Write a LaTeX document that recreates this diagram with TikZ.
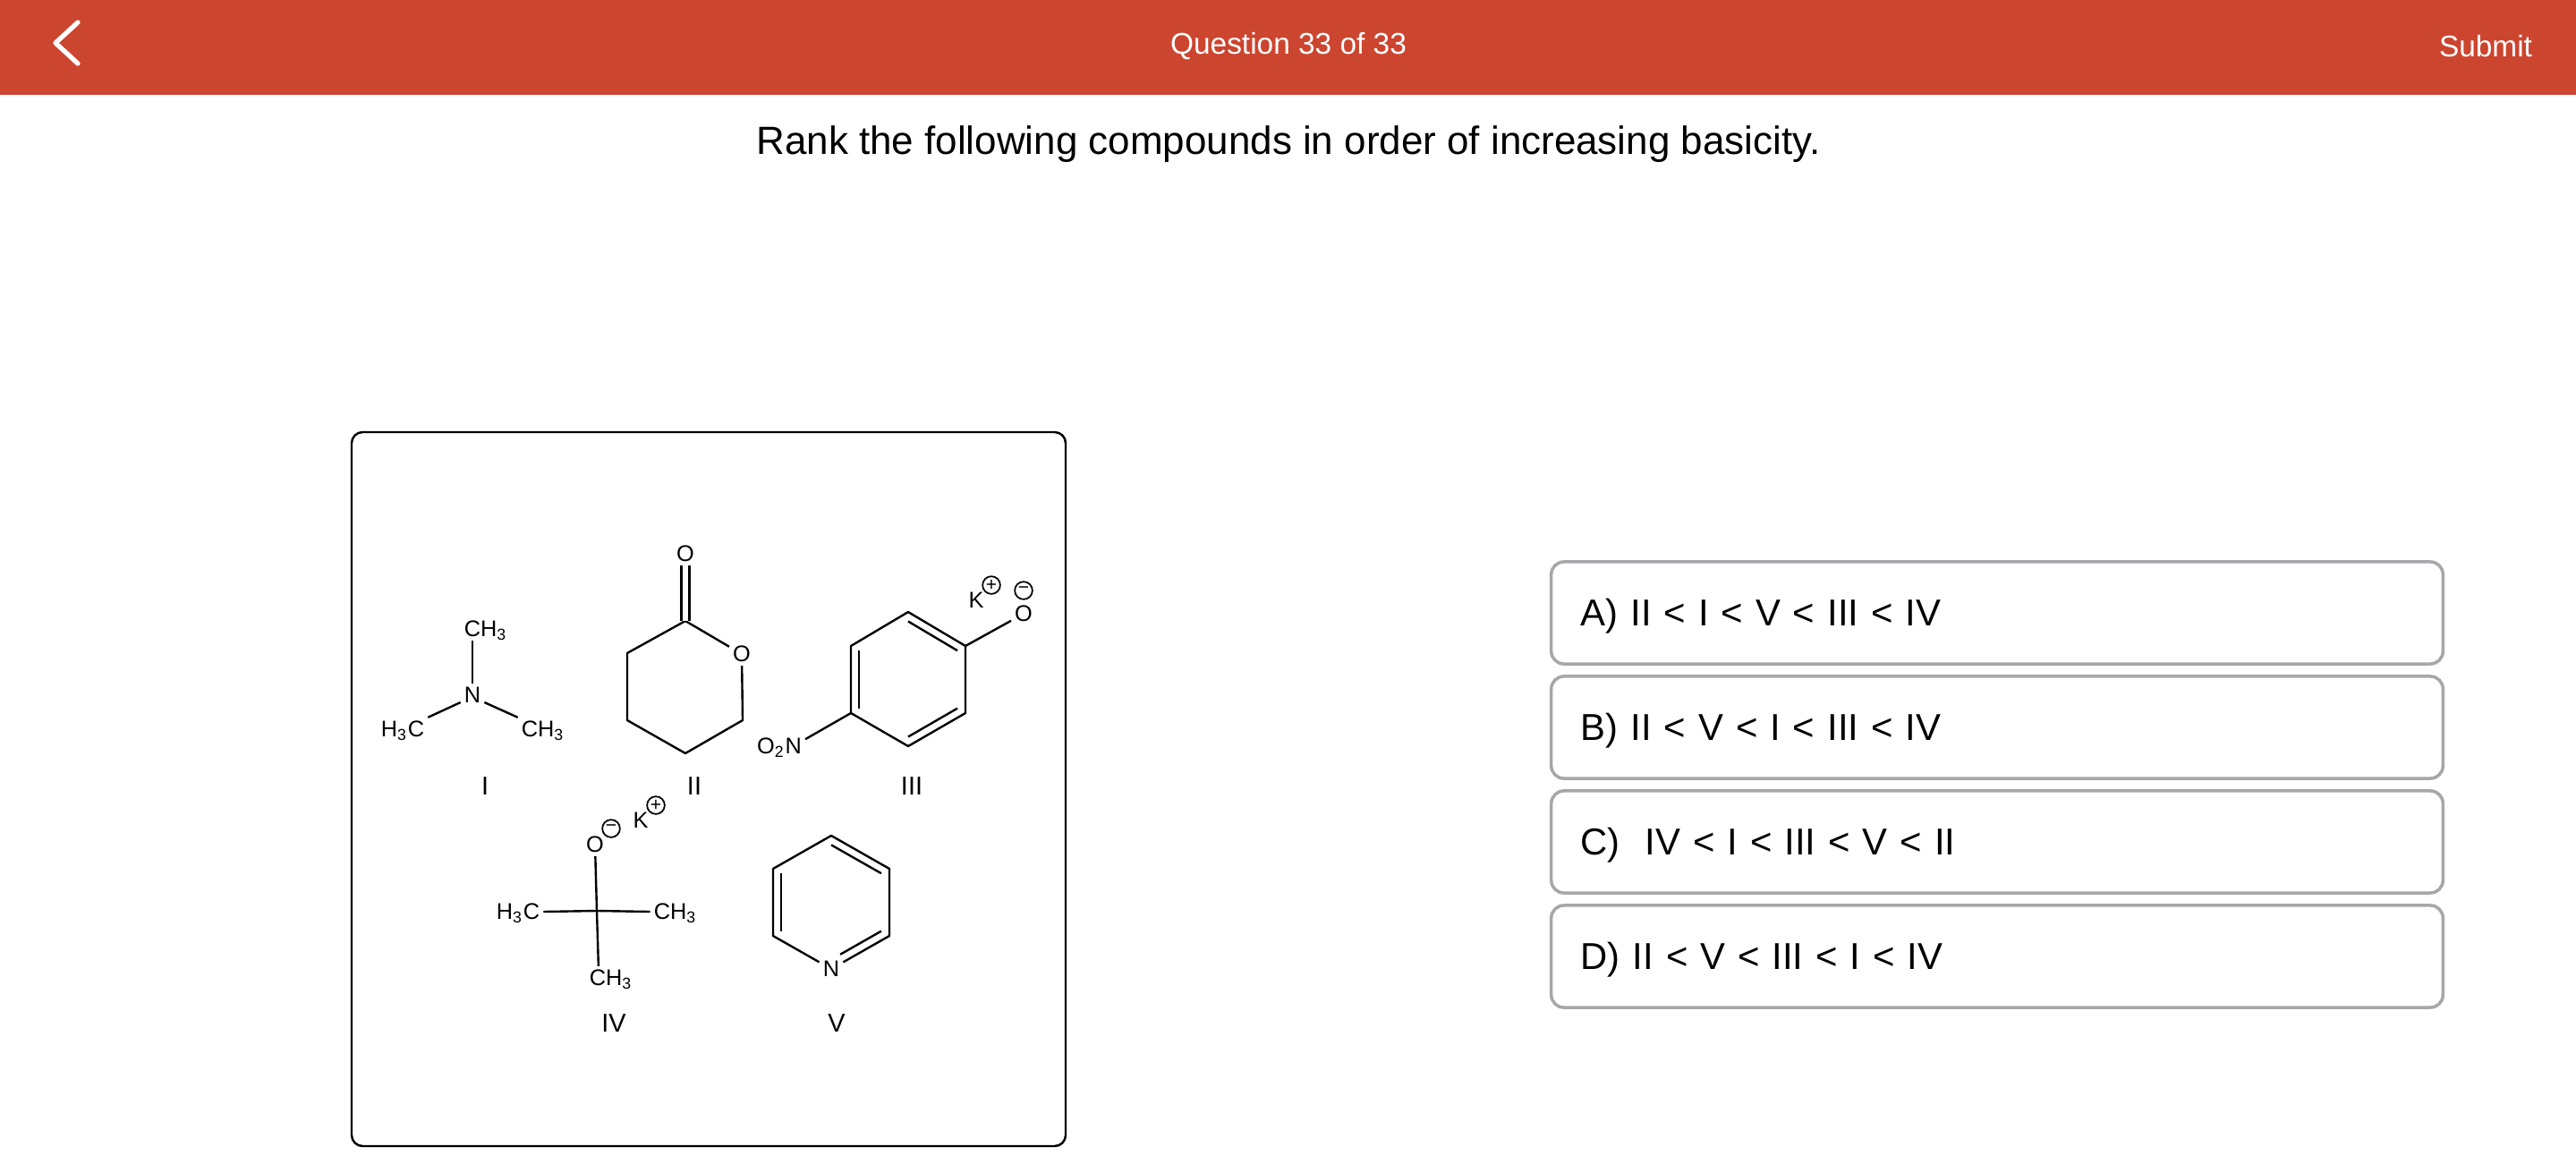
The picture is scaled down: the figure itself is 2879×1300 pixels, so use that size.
\documentclass[tikz,border=0pt]{standalone}
\usepackage{fontspec}
\setmainfont{Liberation Sans}
\usetikzlibrary{calc}
\definecolor{barred}{HTML}{CC452F}
\definecolor{optgray}{HTML}{A5A7AA}
\tikzset{
  atom/.style={inner sep=1pt, font=\fontsize{7.2}{8}\selectfont, text height=5.1pt, text depth=0pt},
  numeral/.style={inner sep=0pt, font=\fontsize{8.2}{10}\selectfont},
  bond/.style={line width=.68pt},
  dbl/.style={double, line width=.68pt, double distance=1.85pt},
  charge/.style={circle, draw, line width=.5pt, minimum size=5.6pt, inner sep=0pt},
  option/.style={draw=optgray, line width=1pt, rounded corners=4pt, minimum width=9.96cm,
    minimum height=1.14cm, text width=9.3cm, align=left, inner xsep=.33cm, inner ysep=0pt,
    text height=9pt, text depth=1pt, font=\fontsize{11.9}{14}\selectfont}
}
\newcommand{\chemsub}[1]{\textsubscript{#1}}
\begin{document}
\begin{tikzpicture}[x=.01cm, y=-.01cm]
\useasboundingbox (0,0) rectangle (2879,1300);
\fill[barred] (0,0) rectangle (2879,106);
\draw[white, line width=1.5pt, line cap=round, line join=round] (87,25)--(62,48)--(87,71);
\node[text=white, font=\fontsize{9.5}{11}\selectfont] (title) at (1440,52){Question 33 of 33};
\node[text=white, font=\fontsize{9.5}{11}\selectfont] (submit) at (2778,52){Submit};
\node[font=\fontsize{12.5}{15}\selectfont] (question) at (1440,161){Rank the following compounds in order of increasing basicity.};
\draw[line width=.7pt, rounded corners=3.5pt] (393,483) rectangle (1191,1281);

% I
\node[atom] (n1) at (528,777){N};
\node[atom] (me1a) at (543,703){CH\chemsub{3}};
\node[atom] (me1b) at (450,815){H\chemsub{3}C};
\node[atom] (me1c) at (607,815){CH\chemsub{3}};
\draw[bond] (n1.north)--(n1.north |- me1a.south);
\draw[bond] (n1.-149)--(me1b.north east);
\draw[bond] (n1.-31)--(me1c.north west);
\node[numeral] (lab1) at (542,879){I};

% II
\foreach \p/\x/\y in {a/766/694,b/701/730,c/701/805,d/766/842,e/830/805}
{
    \coordinate (r2\p) at (\x,\y);
}
\node[atom] (o2a) at (829,731){O};
\node[atom] (o2b) at (766,619){O};
\draw[bond, line join=round] (o2a)--(r2a)--(r2b)--(r2c)--(r2d)--(r2e)--(o2a);
\draw[dbl] (r2a)--(o2b);
\node[numeral] (lab2) at (776,879){II};

% III
\coordinate (c3) at (1015,759);
\foreach \p/\x/\y in {a/1015/684,b/1079/722,c/1079/797,d/1015/834,e/951/797,f/951/722}
{
    \coordinate (r3\p) at (\x,\y);
}
\draw[bond, line join=round] (r3a)--(r3b)--(r3c)--(r3d)--(r3e)--(r3f)--cycle;
\foreach \p/\q in {a/b,c/d,e/f}
{
    \draw[bond] ($(r3\p)!.14!(c3)$)--($(r3\q)!.14!(c3)$);
}
\node[atom] (o3) at (1144,686){O};
\node[atom] (no3) at (871,834){O\chemsub{2}N};
\draw[bond] (r3b)--(o3);
\draw[bond] (r3e)--(no3.15);
\node[atom] (k3) at (1091,671){K};
\node[charge] (p3) at (1108,654){\fontsize{6}{6}\selectfont +};
\node[charge] (m3) at (1144,660){\fontsize{6}{6}\selectfont −};
\node[numeral] (lab3) at (1019,879){III};

% IV
\coordinate (c4) at (667,1018);
\node[atom] (o4) at (665,944){O};
\node[atom] (me4a) at (579,1019){H\chemsub{3}C};
\node[atom] (me4b) at (755,1019){CH\chemsub{3}};
\node[atom] (me4c) at (683,1093){CH\chemsub{3}};
\draw[bond] (c4)--(o4);
\draw[bond] (c4)--(me4a.east);
\draw[bond] (c4)--(me4b.west);
\draw[bond] (c4)--(me4c.137);
\node[atom] (k4) at (716,917){K};
\node[charge] (m4) at (683,926){\fontsize{6}{6}\selectfont −};
\node[charge] (p4) at (733,900){\fontsize{6}{6}\selectfont +};
\node[numeral] (lab4) at (686,1144){IV};

% V
\coordinate (c5) at (929,1008);
\foreach \p/\x/\y in {a/929/934,b/994/971,c/994/1046,e/864/1046,f/864/971}
{
    \coordinate (r5\p) at (\x,\y);
}
\node[atom] (n5) at (929,1083){N};
\draw[bond, line join=round] (n5)--(r5e)--(r5f)--(r5a)--(r5b)--(r5c)--(n5);
\foreach \p/\q in {a/b,e/f}
{
    \draw[bond] ($(r5\p)!.14!(c5)$)--($(r5\q)!.14!(c5)$);
}
\draw[bond, shorten >=3.3pt] ($(r5c)!.14!(c5)$)--($(n5)!.14!(c5)$);
\node[numeral] (lab5) at (935,1144){V};

% answers
\foreach \p/\y/\t in {a/685/{A) II < I < V < III < IV},b/813/{B) II < V < I < III < IV},c/941/{C)~ IV < I < III < V < II},d/1069/{D) II < V < III < I < IV}}
{
    \node[option] (opt\p) at (2232,\y){\t};
}
\end{tikzpicture}
\end{document}
